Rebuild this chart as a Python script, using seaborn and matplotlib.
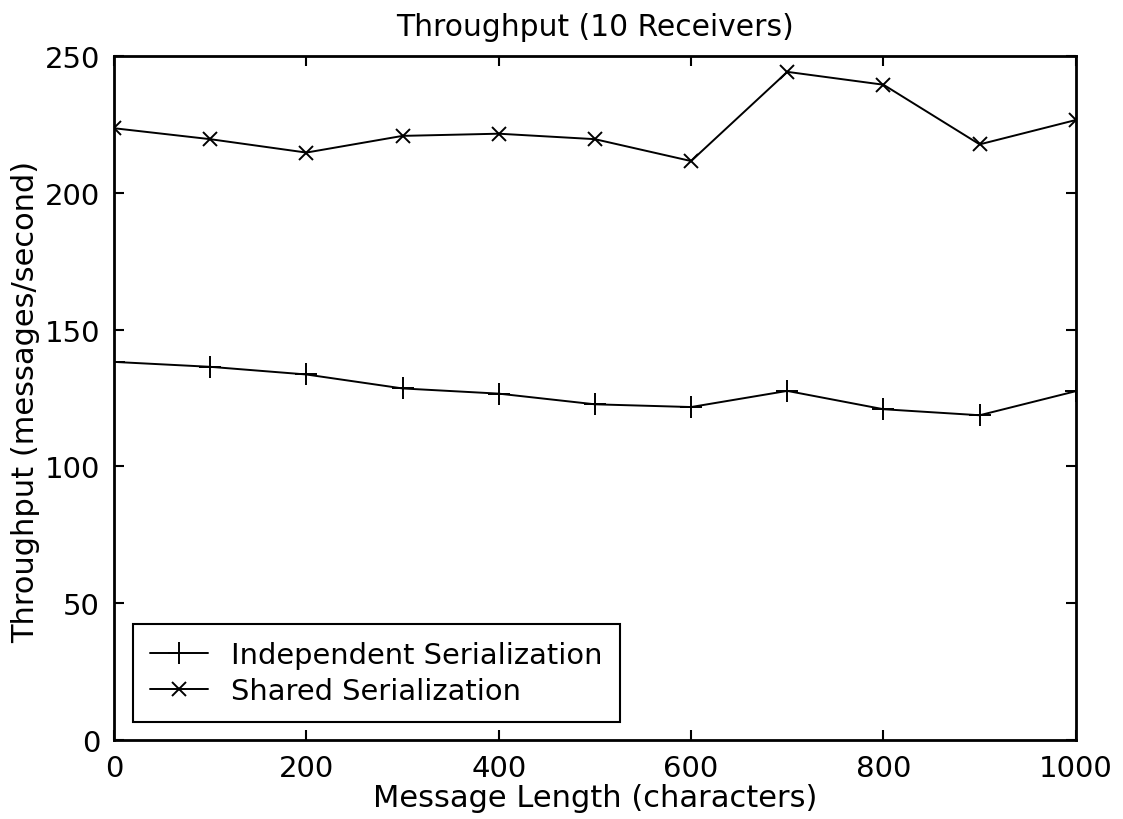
import pandas as pd
import seaborn as sns
import matplotlib.pyplot as plt

# data
msg_length = [0, 100, 200, 300, 400, 500, 600, 700, 800, 900, 1000]
independent = [138.2, 136.4, 133.6, 128.5, 126.6, 122.7, 121.7, 127.6, 120.9, 118.7, 127.5]
shared = [223.6, 219.6, 214.7, 220.8, 221.6, 219.6, 211.6, 244.2, 239.5, 217.7, 226.6]
series_names = ['Independent Serialization', 'Shared Serialization']

df = pd.DataFrame({
    'length': msg_length * 2,
    'throughput': independent + shared,
    'series': [series_names[0]] * len(msg_length) + [series_names[1]] * len(msg_length),
})

sns.set_style('ticks')
plt.rcParams['font.family'] = ['DejaVu Sans']
plt.rcParams['text.color'] = 'black'
plt.rcParams['axes.labelcolor'] = 'black'
plt.rcParams['xtick.color'] = 'black'
plt.rcParams['ytick.color'] = 'black'

fs = 21
msizes = [16, 10]  # + marker, x marker
fig = plt.figure(figsize=(11.23, 8.2), dpi=100)
ax = fig.add_axes([0.1015, 0.0963, 0.8565, 0.8342])

sns.lineplot(data=df, x='length', y='throughput', style='series',
             markers={series_names[0]: '+', series_names[1]: 'x'},
             dashes=False, color='black', linewidth=1.4, markersize=msizes[0],
             markeredgewidth=1.4, markeredgecolor='black', ax=ax)
ax.lines[1].set_markersize(msizes[1])

ax.set_xlim(0, 1000)
ax.set_ylim(0, 250)
ax.set_xticks(range(0, 1001, 200))
ax.set_yticks(range(0, 251, 50))
ax.tick_params(direction='in', length=7, width=1.5, top=True, right=True,
               labelsize=fs, pad=10)
for s in ax.spines.values():
    s.set_linewidth(2)
    s.set_color('black')

ax.set_title('Throughput (10 Receivers)', fontsize=21.4, pad=15)
ax.set_xlabel('Message Length (characters)', fontsize=22)
ax.set_ylabel('Throughput (messages/second)', fontsize=22)
ax.xaxis.set_label_coords(0.5, -0.063)
ax.yaxis.set_label_coords(-0.077, 0.495)

leg = ax.legend(loc='lower left', bbox_to_anchor=(0.0198, 0.0263), borderaxespad=0,
                fontsize=20.8, frameon=True, fancybox=False, edgecolor='black',
                framealpha=1, handlelength=2.0, handletextpad=0.8, borderpad=0.6,
                labelspacing=0.25)
leg.get_frame().set_linewidth(1.5)
for h, ms in zip(leg.legend_handles, msizes):
    h.set_markeredgecolor('black')
    h.set_color('black')
    h.set_markersize(ms)
    h.set_linewidth(1.4)

fig.savefig('out.png', dpi=100)
